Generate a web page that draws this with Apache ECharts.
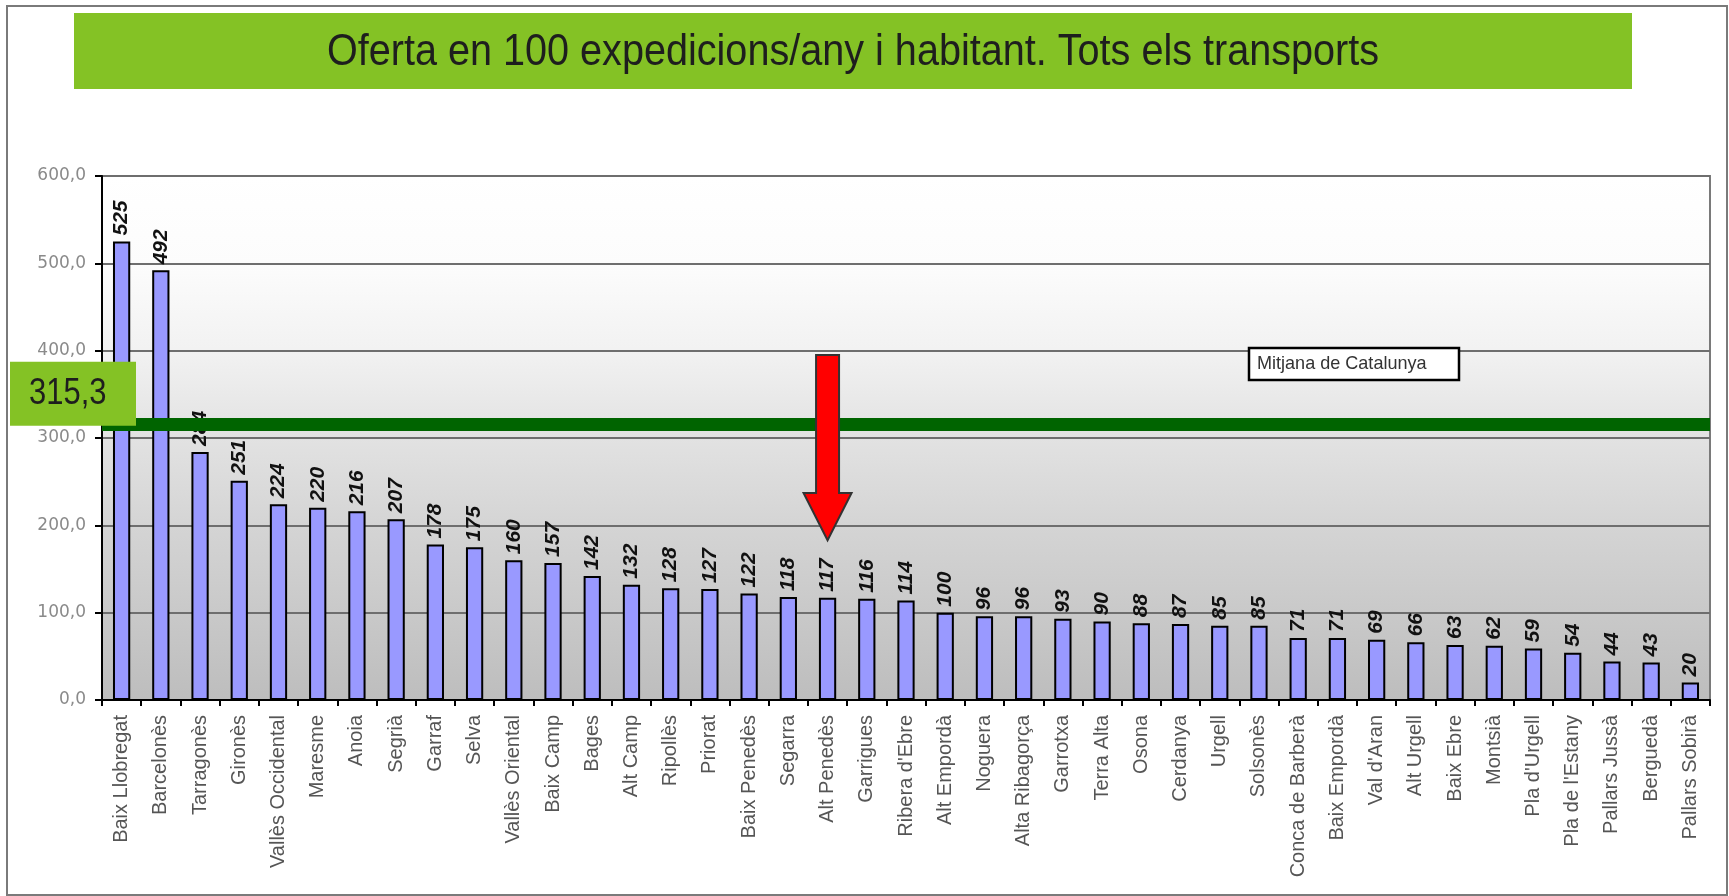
<!DOCTYPE html>
<html>
<head>
<meta charset="utf-8">
<script src="https://cdn.jsdelivr.net/npm/echarts@6/dist/echarts.min.js"></script>
<style>
html,body{margin:0;padding:0;background:#fff;}
#chart{width:1729px;height:896px;}
</style>
</head>
<body>
<div id="chart"></div>
<script>
const titleText = "Oferta en 100 expedicions/any i habitant. Tots els transports";
const categories = ["Baix Llobregat","Barcelonès","Tarragonès","Gironès","Vallès Occidental","Maresme","Anoia","Segrià","Garraf","Selva","Vallès Oriental","Baix Camp","Bages","Alt Camp","Ripollès","Priorat","Baix Penedès","Segarra","Alt Penedès","Garrigues","Ribera d'Ebre","Alt Empordà","Noguera","Alta Ribagorça","Garrotxa","Terra Alta","Osona","Cerdanya","Urgell","Solsonès","Conca de Barberà","Baix Empordà","Val d'Aran","Alt Urgell","Baix Ebre","Montsià","Pla d'Urgell","Pla de l'Estany","Pallars Jussà","Berguedà","Pallars Sobirà"];
const values = [525,492,284,251,224,220,216,207,178,175,160,157,142,132,128,127,122,118,117,116,114,100,96,96,93,90,88,87,85,85,71,71,69,66,63,62,59,54,44,43,20];
const mitjana = 315.3;
const mitjanaLabel = "315,3";
const legendText = "Mitjana de Catalunya";
const arrowCategory = "Alt Penedès";
const arrowFrom = 395, arrowHeadStart = 237, arrowTo = 183;

const chart = echarts.init(document.getElementById('chart'));
const option = {
  animation: false,
  backgroundColor: '#ffffff',
  grid: {
    left: 102, right: 19, top: 176, bottom: 196,
    show: true,
    borderColor: '#7a7a7a', borderWidth: 2,
    backgroundColor: new echarts.graphic.LinearGradient(0,0,0,1,[
      {offset:0, color:'#ffffff'},
      {offset:0.17, color:'#fcfcfc'},
      {offset:0.33, color:'#f2f2f2'},
      {offset:0.5, color:'#e2e2e2'},
      {offset:0.67, color:'#d4d4d4'},
      {offset:0.83, color:'#c9c9c9'},
      {offset:1, color:'#bdbdbd'}
    ])
  },
  xAxis: {
    type: 'category',
    data: categories,
    axisLine: {lineStyle:{color:'#000', width:2}},
    axisTick: {show:true, length:6, lineStyle:{color:'#000', width:2}},
    axisLabel: {rotate:90, color:'#555', fontSize:20, fontFamily:'Liberation Sans', margin:15, interval:0}
  },
  yAxis: {
    type: 'value', min: 0, max: 600, interval: 100,
    axisLine: {show:true, lineStyle:{color:'#000', width:2}},
    axisTick: {show:true, length:7, lineStyle:{color:'#000', width:2}},
    axisLabel: {color:'#8a8a8a', fontSize:17, fontFamily:'DejaVu Sans', margin:16,
      formatter: v => v.toFixed(1).replace('.', ',')},
    splitLine: {show:true, lineStyle:{color:'#6e6e6e', width:2}}
  },
  series: [
    {
      type: 'bar',
      data: values,
      barWidth: '44%',
      itemStyle: {color:'#9999ff', borderColor:'#000', borderWidth:2},
      label: {
        show: true, position: 'top', rotate: 90, align: 'left', verticalAlign: 'middle',
        distance: 6, fontSize: 21, fontWeight: 'bold', fontStyle: 'italic',
        fontFamily: 'Liberation Sans', color: '#111'
      },
      z: 2
    },
    {
      type: 'line',
      data: [],
      z: 10,
      markLine: {
        silent: true, symbol: 'none', animation: false,
        label: {show:false},
        lineStyle: {color:'#006400', width:13, type:'solid'},
        data: [{yAxis: mitjana}]
      }
    }
  ]
};
chart.setOption(option);

function buildGraphics(){
  const xc = chart.convertToPixel({xAxisIndex:0}, arrowCategory);
  const yTop = chart.convertToPixel({yAxisIndex:0}, arrowFrom);
  const yHead = chart.convertToPixel({yAxisIndex:0}, arrowHeadStart);
  const yTip = chart.convertToPixel({yAxisIndex:0}, arrowTo);
  const yMean = chart.convertToPixel({yAxisIndex:0}, mitjana);
  const sw = 11.5, hw = 24;
  chart.setOption({
    graphic: [
      {type:'rect', shape:{x:7, y:6, width:1720, height:889}, style:{fill:'none', stroke:'#7a7a7a', lineWidth:2}, z:1},
      {type:'rect', shape:{x:74, y:13, width:1558, height:76}, style:{fill:'#84c225'}, z:1},
      {type:'text', x:853, y:53, scaleX:0.88, style:{text:titleText, align:'center', verticalAlign:'middle',
        font:'45px "Liberation Sans", sans-serif', fill:'#1e1e1e'}, z:2},
      {type:'rect', shape:{x:10, y:yMean-63, width:126, height:64}, style:{fill:'#84c225'}, z:20},
      {type:'text', x:29, y:yMean-31, scaleX:0.86, style:{text:mitjanaLabel, align:'left', verticalAlign:'middle',
        font:'36px "Liberation Sans", sans-serif', fill:'#1e1e1e'}, z:21},
      {type:'rect', shape:{x:1249, y:348, width:210, height:32}, style:{fill:'#ffffff', stroke:'#000', lineWidth:2.5}, z:20},
      {type:'text', x:1257, y:364, scaleX:0.95, style:{text:legendText, align:'left', verticalAlign:'middle',
        font:'19px "Liberation Sans", sans-serif', fill:'#333'}, z:21},
      {type:'polygon', shape:{points:[
        [xc-sw, yTop],[xc+sw, yTop],[xc+sw, yHead],[xc+hw, yHead],[xc, yTip],[xc-hw, yHead],[xc-sw, yHead]
      ]}, style:{fill:'#ff0000', stroke:'#333', lineWidth:2}, z:20}
    ]
  });
}
buildGraphics();
</script>
</body>
</html>
